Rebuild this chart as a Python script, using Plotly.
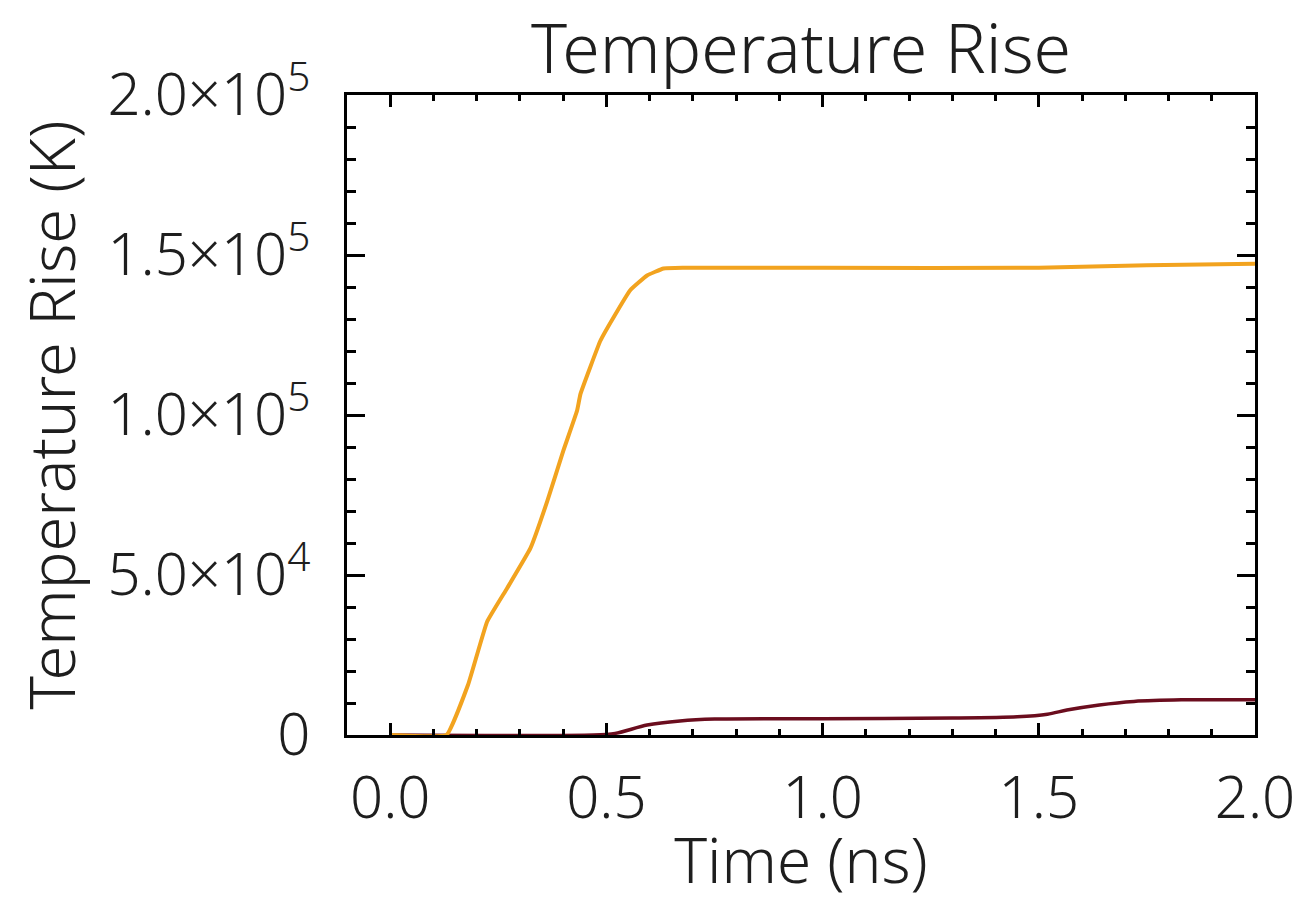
import plotly.graph_objects as go

# Data
t_orange = [0.0, 0.13, 0.18, 0.224, 0.27, 0.324, 0.363, 0.40, 0.432, 0.44, 0.486,
            0.516, 0.555, 0.594, 0.632, 0.68, 1.0, 1.5, 1.75, 2.0]
v_orange = [0, 0, 15700, 35400, 45800, 58300, 73000, 88700, 101300, 106600, 123200,
            130400, 139000, 143600, 145800, 146000, 146000, 146000, 146800, 147300]

t_red = [0.0, 0.47, 0.52, 0.594, 0.67, 0.75, 1.0, 1.3, 1.45, 1.52, 1.565, 1.64, 1.72, 1.83, 2.0]
v_red = [0, 0, 500, 3100, 4400, 5000, 5100, 5300, 5700, 6500, 7800, 9400, 10500, 11000, 11000]

x_ticks = [0.0, 0.5, 1.0, 1.5, 2.0]
x_ticktext = ["0.0", "0.5", "1.0", "1.5", "2.0"]
y_ticks = [0, 50000, 100000, 150000, 200000]
y_ticktext = ["0", "5.0×10<sup>4</sup>", "1.0×10<sup>5</sup>", "1.5×10<sup>5</sup>", "2.0×10<sup>5</sup>"]
x_minor = [round(0.1 * i, 1) for i in range(1, 20) if i % 5 != 0]
y_minor = [10000 * i for i in range(1, 20) if i % 5 != 0]

FONT = "Noto Sans"
W = 300
TXT = "#1e1e1e"
FIG_W, FIG_H = 1292, 893  # page body has an 8px margin

fig = go.Figure()
fig.add_trace(go.Scatter(x=t_red, y=v_red, mode="lines",
                         line=dict(color="#6B0D1E", width=3.5, shape="spline", smoothing=0.8),
                         showlegend=False))
fig.add_trace(go.Scatter(x=t_orange, y=v_orange, mode="lines",
                         line=dict(color="#F2A31F", width=4, shape="spline", smoothing=0.3),
                         showlegend=False))

fig.update_layout(
    width=FIG_W, height=FIG_H,
    paper_bgcolor="white", plot_bgcolor="white",
    margin=dict(l=339, r=45, t=87, b=166, autoexpand=False),
    title=dict(text="Temperature Rise", x=0.5, xref="paper", xanchor="center",
               y=1 - 41 / FIG_H, yref="container", yanchor="middle",
               font=dict(family=FONT, size=68, color=TXT, weight=W)),
)

fig.update_xaxes(
    range=[-0.1, 2.0], tickmode="array", tickvals=x_ticks, ticktext=x_ticktext,
    ticks="inside", ticklen=12, tickwidth=3, tickcolor="black",
    showline=True, linewidth=3, linecolor="black", mirror="allticks",
    showgrid=False, zeroline=False, automargin=False,
    minor=dict(tickmode="array", tickvals=x_minor, ticks="inside", ticklen=6,
               tickwidth=3, tickcolor="black", showgrid=False),
    tickfont=dict(family=FONT, size=58, color=TXT, weight=W), ticklabelstandoff=10,
    title=dict(text="Time (ns)", font=dict(family=FONT, size=62, color=TXT, weight=W), standoff=14),
)
fig.update_yaxes(
    range=[0, 200000], tickmode="array", tickvals=y_ticks, ticktext=y_ticktext,
    ticks="inside", ticklen=18, tickwidth=3, tickcolor="black",
    showline=True, linewidth=3, linecolor="black", mirror="allticks",
    showgrid=False, zeroline=False, automargin=False,
    minor=dict(tickmode="array", tickvals=y_minor, ticks="inside", ticklen=9,
               tickwidth=3, tickcolor="black", showgrid=False),
    tickfont=dict(family=FONT, size=58, color=TXT, weight=W), ticklabelstandoff=22,
    title=dict(text="Temperature Rise (K)", font=dict(family=FONT, size=63, color=TXT, weight=W), standoff=37),
)

fig.write_html("out.html")
